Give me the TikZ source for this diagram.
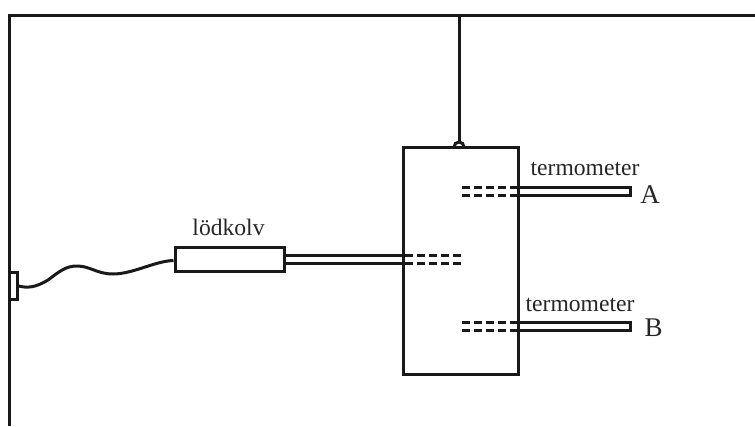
\documentclass[tikz,border=0pt]{standalone}
\usepackage{fontspec}
\setmainfont{Liberation Serif}
\tikzset{
  wire/.style={line width=3pt,draw=black!90},
  thin wire/.style={line width=3pt,draw=black!90},
  dash wire/.style={line width=3pt,draw=black!90,dash pattern=on 8pt off 4pt},
  blockbox/.style={draw=black!90,line width=3pt,fill=white,inner sep=0pt,rectangle},
  lab/.style={inner sep=0pt,anchor=base,text=black!85,font=\fontsize{23.6}{26}\selectfont},
  biglab/.style={inner sep=0pt,anchor=base,text=black!85,font=\fontsize{27}{30}\selectfont}
}
\begin{document}
\begin{tikzpicture}[x=1pt,y=-1pt]
\useasboundingbox (0,0) rectangle (755,426);
% frame
\coordinate (tr) at (755,15);
\coordinate (tl) at (9,15);
\coordinate (bl) at (9,426);
\draw[wire] (tr) -- (tl) -- (bl);
% hanging wire
\coordinate (hangtop) at (459,15);
\coordinate (hangbot) at (459,142);
\draw[wire] (hangtop) -- (hangbot);
% thermometers
\node[blockbox,minimum width=112pt,minimum height=8pt] (tha) at (574,191) {};
\node[blockbox,minimum width=112pt,minimum height=8pt] (thb) at (574,326) {};
% vessel
\node[blockbox,minimum width=115pt,minimum height=227pt] (vessel) at (460.5,260.5) {};
% loop
\draw[line width=3pt,draw=black!90] (454,147) arc[start angle=180,end angle=360,radius=5];
% plug on the wall
\node[blockbox,minimum width=8pt,minimum height=27pt] (plug) at (13,285.5) {};
% soldering iron
\node[blockbox,minimum width=109pt,minimum height=24pt] (iron) at (229.5,259) {};
% cable
\draw[thin wire] (plug.east |- 0,286) .. controls (27,288) and (35,288) .. (48,280)
  .. controls (60,271) and (66,266) .. (77,266)
  .. controls (90,266) and (97,274) .. (113,274)
  .. controls (133,274) and (155,261) .. (iron.west |- 0,260.5);
% iron tip
\coordinate (tipa) at (403,255);
\coordinate (tipb) at (403,263);
\coordinate (tipae) at (461,255);
\coordinate (tipbe) at (461,263);
\draw[thin wire] (iron.east |- tipa) -- (tipa);
\draw[thin wire] (iron.east |- tipb) -- (tipb);
\draw[dash wire] (tipae) -- (tipa);
\draw[dash wire] (tipbe) -- (tipb);
% thermometer A inner part
\coordinate (aup) at (518,187);
\coordinate (alo) at (518,195);
\coordinate (aupe) at (461,187);
\coordinate (aloe) at (461,195);
\draw[dash wire] (aup) -- (aupe);
\draw[dash wire] (alo) -- (aloe);
% thermometer B inner part
\coordinate (bup) at (518,322);
\coordinate (blo) at (518,330);
\coordinate (bupe) at (460,322);
\coordinate (bloe) at (460,330);
\draw[dash wire] (bup) -- (bupe);
\draw[dash wire] (blo) -- (bloe);
% labels
\node[lab] (l1) at (228.5,235) {lödkolv};
\node[lab] (l2) at (585,175) {termometer};
\node[lab] (l3) at (580,311) {termometer};
\node[biglab] (l4) at (650,203) {A};
\node[biglab] (l5) at (653.5,336) {B};
\end{tikzpicture}
\end{document}
